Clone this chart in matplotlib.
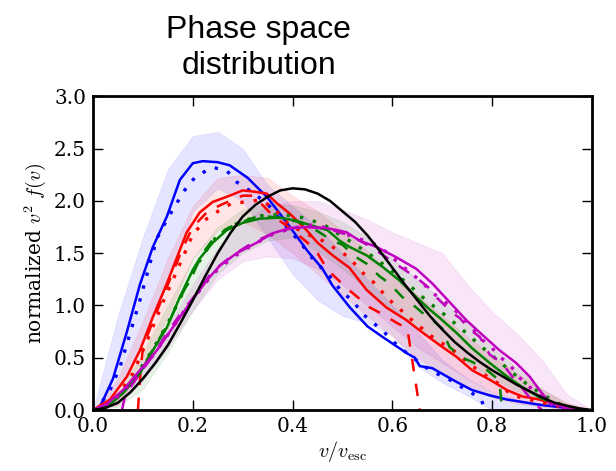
import numpy as np
import matplotlib
matplotlib.use("Agg")
import matplotlib.pyplot as plt

plt.rcParams['font.family'] = ['DejaVu Serif']
plt.rcParams['mathtext.fontset'] = 'cm'

# ---- data (v / v_esc, normalized v^2 f(v)) ----
# blue
blue_solid_v = [0, 0.014, 0.04, 0.068, 0.094, 0.12, 0.148, 0.174, 0.2, 0.22, 0.25, 0.274, 0.31, 0.35, 0.39,
                0.43, 0.46, 0.48, 0.515, 0.55, 0.58, 0.63, 0.645, 0.655, 0.68, 0.728, 0.76, 0.795, 0.83, 0.895,
                0.95, 0.97]
blue_solid_y = [0, 0.03, 0.3, 0.75, 1.2, 1.56, 1.85, 2.2, 2.36, 2.38, 2.37, 2.34, 2.22, 2.03, 1.78,
                1.52, 1.35, 1.19, 0.98, 0.8, 0.7, 0.54, 0.5, 0.42, 0.4, 0.27, 0.19, 0.14, 0.1, 0.05,
                0.02, 0.0]
blue_dot_v = [0, 0.014, 0.034, 0.054, 0.074, 0.094, 0.114, 0.128, 0.148, 0.168, 0.19, 0.208, 0.24, 0.268, 0.288,
              0.32, 0.35, 0.37, 0.414, 0.44, 0.478, 0.5, 0.52, 0.54, 0.58, 0.614, 0.65, 0.675, 0.715, 0.735,
              0.76, 0.778, 0.786]
blue_dot_y = [0, 0.05, 0.19, 0.41, 0.73, 1.05, 1.4, 1.64, 1.82, 1.98, 2.15, 2.24, 2.32, 2.29, 2.18,
              2.08, 1.97, 1.85, 1.61, 1.45, 1.26, 1.12, 1.05, 0.92, 0.76, 0.6, 0.47, 0.38, 0.29, 0.23,
              0.16, 0.1, 0.0]

# red
red_solid_v = [0, 0.034, 0.068, 0.094, 0.12, 0.148, 0.174, 0.188, 0.214, 0.24, 0.274, 0.3, 0.32, 0.348, 0.368,
               0.394, 0.428, 0.45, 0.48, 0.514, 0.548, 0.588, 0.628, 0.655, 0.695, 0.728, 0.76, 0.795, 0.83,
               0.86, 0.895, 0.93, 0.96, 0.98]
red_solid_y = [0, 0.1, 0.32, 0.57, 0.89, 1.21, 1.53, 1.7, 1.89, 1.99, 2.05, 2.1, 2.09, 2.07, 1.98,
               1.88, 1.72, 1.6, 1.48, 1.36, 1.15, 0.98, 0.86, 0.76, 0.62, 0.51, 0.38, 0.29, 0.19,
               0.13, 0.1, 0.05, 0.02, 0.0]
red_dot_v = [0, 0.04, 0.08, 0.11, 0.14, 0.17, 0.2, 0.228, 0.26, 0.28, 0.31, 0.334, 0.36, 0.39, 0.42,
             0.46, 0.49, 0.514, 0.534, 0.565, 0.59, 0.614, 0.634, 0.68, 0.728, 0.76, 0.79, 0.81, 0.84,
             0.875, 0.9, 0.93, 0.96]
red_dot_y = [0, 0.08, 0.35, 0.68, 1.03, 1.35, 1.68, 1.83, 1.93, 1.98, 1.99, 2.01, 1.94, 1.79, 1.7,
             1.62, 1.53, 1.46, 1.34, 1.21, 1.07, 0.97, 0.88, 0.7, 0.55, 0.42, 0.32, 0.26, 0.14,
             0.1, 0.07, 0.04, 0.0]
red_dash_v = [0.09, 0.095, 0.1, 0.12, 0.15, 0.18, 0.2, 0.23, 0.26, 0.3, 0.32, 0.344, 0.36, 0.4, 0.43,
              0.45, 0.47, 0.49, 0.51, 0.53, 0.555, 0.575, 0.61, 0.63, 0.655]
red_dash_y = [0.0, 0.35, 0.6, 0.85, 1.2, 1.55, 1.75, 1.9, 1.97, 2.05, 2.05, 1.94, 1.86, 1.72, 1.6,
              1.5, 1.34, 1.25, 1.16, 1.08, 0.98, 0.93, 0.83, 0.78, 0.0]

# green
green_solid_v = [0, 0.028, 0.06, 0.094, 0.12, 0.148, 0.174, 0.2, 0.214, 0.24, 0.268, 0.3, 0.334, 0.374, 0.408,
                 0.434, 0.47, 0.494, 0.514, 0.548, 0.58, 0.614, 0.648, 0.675, 0.695, 0.728, 0.76, 0.795,
                 0.83, 0.86, 0.895, 0.93, 0.96, 0.98]
green_solid_y = [0, 0.03, 0.16, 0.35, 0.57, 0.79, 1.08, 1.34, 1.45, 1.6, 1.72, 1.79, 1.83, 1.84, 1.81,
                 1.77, 1.72, 1.62, 1.56, 1.48, 1.37, 1.24, 1.08, 0.96, 0.88, 0.74, 0.59, 0.45,
                 0.32, 0.22, 0.12, 0.05, 0.01, 0.0]
green_dot_v = [0, 0.03, 0.06, 0.09, 0.12, 0.15, 0.18, 0.21, 0.24, 0.27, 0.3, 0.34, 0.38, 0.42, 0.46,
               0.5, 0.52, 0.56, 0.6, 0.63, 0.67, 0.7, 0.74, 0.78, 0.82, 0.86, 0.9, 0.93, 0.96]
green_dot_y = [0, 0.04, 0.17, 0.36, 0.58, 0.83, 1.12, 1.4, 1.62, 1.74, 1.81, 1.86, 1.87, 1.84, 1.78,
               1.66, 1.6, 1.47, 1.33, 1.21, 1.04, 0.93, 0.77, 0.6, 0.44, 0.28, 0.15, 0.07, 0.0]
green_dash_v = [0.0, 0.03, 0.06, 0.09, 0.12, 0.15, 0.18, 0.2, 0.22, 0.24, 0.27, 0.3, 0.334, 0.37, 0.41,
                0.44, 0.48, 0.5, 0.528, 0.548, 0.574, 0.594, 0.62, 0.638, 0.66, 0.68, 0.7, 0.705, 0.715,
                0.74, 0.76, 0.79, 0.81, 0.815, 0.82]
green_dash_y = [0, 0.04, 0.17, 0.33, 0.58, 0.82, 1.12, 1.3, 1.5, 1.63, 1.74, 1.8, 1.86, 1.84, 1.8,
                1.74, 1.62, 1.58, 1.46, 1.4, 1.28, 1.21, 1.08, 1.02, 0.93, 0.86, 0.78, 0.7, 0.6,
                0.5, 0.46, 0.38, 0.3, 0.25, 0.0]

# magenta
mag_solid_v = [0, 0.028, 0.06, 0.094, 0.128, 0.16, 0.194, 0.228, 0.254, 0.288, 0.328, 0.36, 0.394, 0.428,
               0.468, 0.508, 0.534, 0.568, 0.608, 0.648, 0.68, 0.715, 0.748, 0.78, 0.815, 0.848, 0.875,
               0.895, 0.915, 0.95, 0.97]
mag_solid_y = [0, 0.06, 0.19, 0.38, 0.57, 0.79, 1.02, 1.24, 1.38, 1.5, 1.6, 1.69, 1.74, 1.75,
               1.74, 1.7, 1.62, 1.56, 1.46, 1.35, 1.21, 1.03, 0.86, 0.72, 0.57, 0.45, 0.32,
               0.19, 0.07, 0.02, 0.0]
mag_dot_v = [0, 0.03, 0.06, 0.09, 0.12, 0.15, 0.18, 0.21, 0.24, 0.28, 0.32, 0.36, 0.4, 0.44, 0.48,
             0.514, 0.568, 0.588, 0.614, 0.66, 0.678, 0.72, 0.75, 0.78, 0.795, 0.815, 0.835, 0.848, 0.86,
             0.875, 0.895, 0.92, 0.95]
mag_dot_y = [0, 0.05, 0.17, 0.34, 0.52, 0.72, 0.93, 1.12, 1.3, 1.46, 1.58, 1.68, 1.74, 1.77, 1.73,
             1.67, 1.58, 1.51, 1.4, 1.22, 1.13, 0.98, 0.84, 0.67, 0.62, 0.51, 0.43, 0.36, 0.28,
             0.22, 0.14, 0.05, 0.0]
mag_dash_v = [0.058, 0.065, 0.09, 0.12, 0.15, 0.18, 0.21, 0.24, 0.28, 0.32, 0.36, 0.4, 0.44, 0.48, 0.52,
              0.56, 0.6, 0.634, 0.655, 0.678, 0.69, 0.72, 0.735, 0.755, 0.775, 0.795, 0.82, 0.84, 0.855,
              0.875, 0.89, 0.9]
mag_dash_y = [0, 0.15, 0.32, 0.52, 0.75, 0.95, 1.13, 1.33, 1.48, 1.6, 1.69, 1.74, 1.75, 1.72, 1.66,
              1.55, 1.42, 1.31, 1.24, 1.15, 1.07, 0.93, 0.88, 0.77, 0.7, 0.53, 0.45, 0.32, 0.24,
              0.12, 0.04, 0.0]

# black reference curve
black_v = [0, 0.025, 0.05, 0.075, 0.1, 0.125, 0.15, 0.175, 0.2, 0.225, 0.25, 0.275, 0.3, 0.325, 0.35,
           0.375, 0.4, 0.425, 0.45, 0.475, 0.5, 0.525, 0.55, 0.575, 0.6, 0.625, 0.65, 0.675, 0.7,
           0.725, 0.75, 0.775, 0.8, 0.825, 0.85, 0.875, 0.9, 0.925, 0.95, 0.975, 1.0]
black_y = [0, 0.02, 0.07, 0.17, 0.3, 0.45, 0.62, 0.83, 1.05, 1.28, 1.5, 1.69, 1.85, 1.96, 2.04,
           2.1, 2.12, 2.11, 2.07, 2.0, 1.9, 1.8, 1.67, 1.52, 1.36, 1.2, 1.05, 0.9, 0.77,
           0.65, 0.55, 0.46, 0.38, 0.31, 0.24, 0.18, 0.12, 0.07, 0.04, 0.015, 0.0]

# shaded bands (same grid for all)
band_v = [0, 0.05, 0.1, 0.15, 0.2, 0.25, 0.3, 0.35, 0.4, 0.45, 0.5, 0.55, 0.6, 0.65, 0.7, 0.75,
          0.8, 0.85, 0.9, 0.95, 1.0]
blue_lo = [0, 0.2, 0.65, 1.22, 1.9, 2.12, 2.0, 1.65, 1.3, 1.05, 0.9, 0.83, 0.72, 0.42, 0.26, 0.14,
           0.0, 0.0, 0.0, 0.0, 0.0]
blue_hi = [0, 0.9, 1.65, 2.3, 2.62, 2.66, 2.5, 2.15, 1.95, 1.75, 1.5, 1.25, 1.0, 0.75, 0.48, 0.3,
           0.17, 0.1, 0.06, 0.02, 0.0]
red_lo = [0, 0.05, 0.4, 0.9, 1.45, 1.72, 1.8, 1.68, 1.5, 1.3, 1.1, 0.9, 0.7, 0.5, 0.35, 0.22,
          0.12, 0.06, 0.03, 0.01, 0.0]
red_hi = [0, 0.3, 0.85, 1.45, 1.95, 2.22, 2.25, 2.22, 2.05, 1.9, 1.72, 1.52, 1.3, 1.1, 0.9, 0.7,
          0.52, 0.35, 0.2, 0.07, 0.0]
green_lo = [0, 0.03, 0.2, 0.55, 0.95, 1.3, 1.5, 1.62, 1.65, 1.52, 1.35, 1.15, 0.95, 0.78, 0.6, 0.45,
            0.3, 0.18, 0.08, 0.02, 0.0]
green_hi = [0, 0.15, 0.55, 1.0, 1.45, 1.75, 1.92, 1.97, 1.96, 1.9, 1.8, 1.65, 1.45, 1.25, 1.05, 0.83,
            0.6, 0.4, 0.2, 0.06, 0.0]
mag_lo = [0, 0.05, 0.28, 0.6, 0.95, 1.25, 1.42, 1.47, 1.45, 1.35, 1.2, 1.0, 0.8, 0.6, 0.45, 0.3,
          0.18, 0.1, 0.04, 0.01, 0.0]
mag_hi = [0, 0.12, 0.45, 0.8, 1.2, 1.55, 1.8, 1.95, 2.0, 2.0, 1.92, 1.82, 1.7, 1.6, 1.5, 1.2,
          0.94, 0.73, 0.48, 0.15, 0.0]

fig = plt.figure(figsize=(6.16, 4.71), dpi=100)
ax = fig.add_axes([0.151, 0.1295, 0.81, 0.666])

# bands
for lo, hi, c in [(blue_lo, blue_hi, 'b'), (red_lo, red_hi, 'r'),
                  (green_lo, green_hi, 'g'), (mag_lo, mag_hi, 'm')]:
    ax.fill_between(band_v, lo, hi, color=c, alpha=0.1, lw=0.5)

dot = (0, (1, 3))
dash = (0, (5, 5))
lw = 1.8

ax.plot(blue_solid_v, blue_solid_y, color='b', lw=lw)
ax.plot(blue_dot_v, blue_dot_y, color='b', ls=dot, lw=2.4)
ax.plot(red_solid_v, red_solid_y, color='r', lw=lw)
ax.plot(red_dot_v, red_dot_y, color='r', ls=dot, lw=2.4)
ax.plot(red_dash_v, red_dash_y, color='r', ls=dash, lw=lw)
ax.plot(green_solid_v, green_solid_y, color='g', lw=lw)
ax.plot(green_dot_v, green_dot_y, color='g', ls=dot, lw=2.4)
ax.plot(green_dash_v, green_dash_y, color='g', ls=dash, lw=lw)
ax.plot(mag_solid_v, mag_solid_y, color='m', lw=lw)
ax.plot(mag_dot_v, mag_dot_y, color='m', ls=dot, lw=2.4)
ax.plot(mag_dash_v, mag_dash_y, color='m', ls=dash, lw=lw)
ax.plot(black_v, black_y, color='k', lw=lw)

ax.set_xlim(0, 1)
ax.set_ylim(0, 3)
ax.set_xticks([0, 0.2, 0.4, 0.6, 0.8, 1.0])
ax.set_yticks([0, 0.5, 1.0, 1.5, 2.0, 2.5, 3.0])
ax.tick_params(direction='in', top=True, right=True, length=7, width=1, labelsize=14.5, pad=5)
for s in ax.spines.values():
    s.set_linewidth(2)

ax.set_xlabel(r'$v/v_{\rm esc}$', fontsize=14.5, labelpad=2)
ax.set_ylabel(r'normalized $v^2\ f(v)$', fontsize=14.5, labelpad=4)

fig.text(0.42, 0.898, 'Phase space\ndistribution', family='Liberation Sans', fontsize=23,
         ha='center', va='center', linespacing=1.25)

fig.savefig('out.png', dpi=100)
